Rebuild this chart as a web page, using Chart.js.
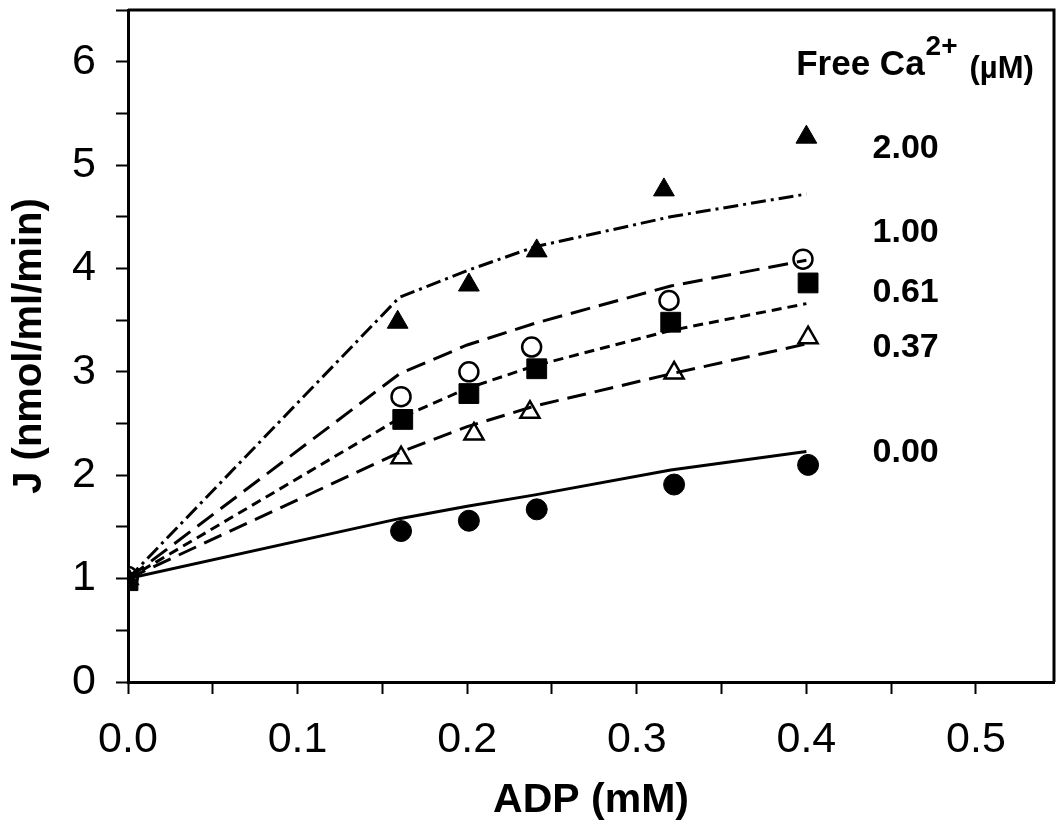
<!DOCTYPE html>
<html>
<head>
<meta charset="utf-8">
<script src="https://cdn.jsdelivr.net/npm/chart.js@4.4.1/dist/chart.umd.min.js"></script>
<style>
html, body { margin: 0; padding: 0; background: #fff; overflow: hidden; }
#wrap { width: 1057px; height: 831px; position: relative; }
canvas { display: block; }
</style>
</head>
<body>
<div id="wrap"><canvas id="chart_adpFlux"></canvas></div>
<script>
// measured J (nmol/ml/min) vs ADP (mM), one pair of arrays per free Ca2+ level
var adp_ca200 = [0, 0.159, 0.201, 0.241, 0.316, 0.400];
var j_ca200   = [1.00, 3.48, 3.84, 4.17, 4.76, 5.27];
var adp_ca100 = [0, 0.161, 0.201, 0.238, 0.319, 0.398];
var j_ca100   = [1.02, 2.76, 3.00, 3.24, 3.69, 4.09];
var adp_ca061 = [0, 0.162, 0.201, 0.241, 0.320, 0.401];
var j_ca061   = [0.98, 2.54, 2.79, 3.03, 3.48, 3.86];
var adp_ca037 = [0, 0.161, 0.204, 0.237, 0.322, 0.401];
var j_ca037   = [1.00, 2.17, 2.40, 2.61, 2.99, 3.33];
var adp_ca000 = [0, 0.161, 0.201, 0.241, 0.322, 0.401];
var j_ca000   = [1.01, 1.46, 1.56, 1.67, 1.91, 2.10];

// model curves
var adpFit    = [0, 0.16, 0.20, 0.24, 0.32, 0.40];
var fit_ca200 = [1.00, 3.72, 3.98, 4.21, 4.50, 4.72];
var fit_ca100 = [1.00, 2.98, 3.26, 3.47, 3.83, 4.08];
var fit_ca061 = [1.00, 2.55, 2.84, 3.06, 3.40, 3.66];
var fit_ca037 = [1.00, 2.22, 2.47, 2.67, 2.98, 3.27];
var fit_ca000 = [1.00, 1.58, 1.70, 1.81, 2.05, 2.23];

var caLabels = ['2.00', '1.00', '0.61', '0.37', '0.00'];
var xTickValues = [0, 0.05, 0.1, 0.15, 0.2, 0.25, 0.3, 0.35, 0.4, 0.45, 0.5];

function pts(xs, ys) {
    return xs.map(function(x, i) { return {x: x, y: ys[i]}; });
}

function markerSet(label, xs, ys, style, filled, radius) {
    return {
        label: label,
        data: pts(xs, ys),
        showLine: false,
        pointStyle: style,
        pointRadius: radius,
        pointBackgroundColor: filled ? '#000' : '#fff',
        pointBorderColor: '#000',
        pointBorderWidth: filled ? 1 : 2.5,
        order: 2
    };
}

function fitSet(label, ys, dash) {
    return {
        label: label,
        data: pts(adpFit, ys),
        showLine: true,
        pointRadius: 0,
        borderColor: '#000',
        borderWidth: 3,
        borderDash: dash,
        tension: 0,
        fill: false,
        order: 1
    };
}

var framePlugin = {
    id: 'plotFrame',
    afterDraw: function(chart) {
        var a = chart.chartArea, ctx = chart.ctx;
        ctx.save();
        ctx.strokeStyle = '#000';
        ctx.lineWidth = 3;
        ctx.beginPath();
        ctx.moveTo(a.left, a.top);
        ctx.lineTo(a.right, a.top);
        ctx.lineTo(a.right, a.bottom);
        ctx.stroke();
        ctx.restore();
    }
};

var caLabelPlugin = {
    id: 'caLabels',
    afterDatasetsDraw: function(chart, args, opts) {
        var ctx = chart.ctx, xs = chart.scales.x, ys = chart.scales.y;
        ctx.save();
        ctx.fillStyle = '#000';
        ctx.textBaseline = 'middle';
        ctx.textAlign = 'left';
        ctx.font = 'bold 34px "Liberation Sans", Arial, sans-serif';
        var lx = xs.getPixelForValue(opts.labelX);
        caLabels.forEach(function(t, i) {
            ctx.fillText(t, lx, ys.getPixelForValue(opts.labelY[i]));
        });
        // header: Free Ca2+ (µM)
        var hx = xs.getPixelForValue(opts.headX);
        var hy = ys.getPixelForValue(opts.headY);
        ctx.textBaseline = 'alphabetic';
        ctx.font = 'bold 35px "Liberation Sans", Arial, sans-serif';
        ctx.fillText('Free Ca', hx, hy);
        hx += ctx.measureText('Free Ca').width + 1;
        ctx.font = 'bold 28px "Liberation Sans", Arial, sans-serif';
        ctx.fillText('2+', hx, hy - 20);
        hx += ctx.measureText('2+').width + 12;
        ctx.font = 'bold 31px "Liberation Sans", Arial, sans-serif';
        ctx.fillText('(\u00b5M)', hx, hy + 3);
        ctx.restore();
    }
};

var chart_adpFlux = new Chart(document.getElementById('chart_adpFlux'), {
    type: 'scatter',
    data: {
        datasets: [
            markerSet('2.00', adp_ca200, j_ca200, 'triangle', true, 12),
            markerSet('1.00', adp_ca100, j_ca100, 'circle', false, 9.5),
            markerSet('0.61', adp_ca061, j_ca061, 'rect', true, 14),
            markerSet('0.37', adp_ca037, j_ca037, 'triangle', false, 11),
            markerSet('0.00', adp_ca000, j_ca000, 'circle', true, 10.5),
            fitSet('fit 2.00', fit_ca200, [15, 5, 3, 5]),
            fitSet('fit 1.00', fit_ca100, [20, 9]),
            fitSet('fit 0.61', fit_ca061, [10, 6]),
            fitSet('fit 0.37', fit_ca037, [19, 9]),
            fitSet('fit 0.00', fit_ca000, [])
        ]
    },
    options: {
        animation: false,
        responsive: true,
        maintainAspectRatio: false,
        layout: { autoPadding: false, padding: { top: 10, right: 3, left: 0, bottom: 0 } },
        plugins: {
            legend: { display: false },
            tooltip: { enabled: false },
            caLabels: {
                labelX: 0.439,
                labelY: [5.16, 4.35, 3.77, 3.23, 2.22],
                headX: 0.394,
                headY: 5.87
            }
        },
        scales: {
            x: {
                type: 'linear',
                min: 0,
                max: 0.546,
                afterBuildTicks: function(scale) {
                    scale.ticks = xTickValues.map(function(v) { return {value: v}; });
                },
                afterFit: function(scale) {
                    scale.height = 149;
                    scale.paddingLeft = 0;
                    scale.paddingRight = 0;
                },
                border: { display: true, color: '#000', width: 3 },
                grid: {
                    drawOnChartArea: false,
                    drawTicks: true,
                    tickLength: 12,
                    tickWidth: 2,
                    tickColor: '#000'
                },
                ticks: {
                    autoSkip: false,
                    maxRotation: 0,
                    padding: 20,
                    color: '#000',
                    font: { family: '"Liberation Sans", Arial, sans-serif', size: 43 },
                    callback: function(v) {
                        var t = v * 10;
                        return Math.abs(t - Math.round(t)) < 1e-6 ? v.toFixed(1) : '';
                    }
                },
                title: {
                    display: true,
                    text: 'ADP (mM)',
                    color: '#000',
                    padding: { top: 0, bottom: 6 },
                    font: { family: '"Liberation Sans", Arial, sans-serif', size: 41, weight: 'bold' }
                }
            },
            y: {
                type: 'linear',
                min: 0,
                max: 6.5,
                afterFit: function(scale) {
                    scale.width = 128;
                    scale.paddingTop = 0;
                    scale.paddingBottom = 0;
                },
                border: { display: true, color: '#000', width: 3 },
                grid: {
                    drawOnChartArea: false,
                    drawTicks: true,
                    tickLength: 12,
                    tickWidth: 2,
                    tickColor: '#000'
                },
                ticks: {
                    stepSize: 0.5,
                    autoSkip: false,
                    padding: 20,
                    color: '#000',
                    font: { family: '"Liberation Sans", Arial, sans-serif', size: 43 },
                    callback: function(v) {
                        return Math.abs(v - Math.round(v)) < 1e-6 ? String(Math.round(v)) : '';
                    }
                },
                title: {
                    display: true,
                    text: 'J (nmol/ml/min)',
                    color: '#000',
                    padding: { top: 6, bottom: 0 },
                    font: { family: '"Liberation Sans", Arial, sans-serif', size: 40, weight: 'bold' }
                }
            }
        }
    },
    plugins: [framePlugin, caLabelPlugin]
});
</script>
</body>
</html>
